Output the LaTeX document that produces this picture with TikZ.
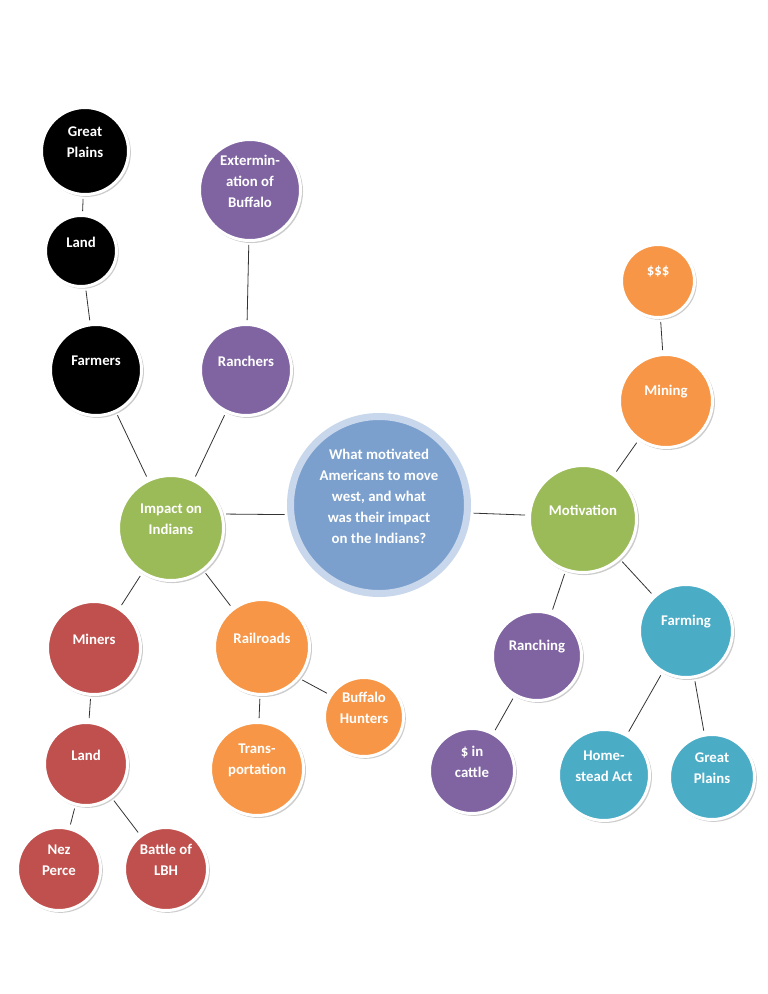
\documentclass[tikz,border=0pt]{standalone}
\usepackage{fontspec}
\setmainfont{Carlito}
\usetikzlibrary{shadows}

\definecolor{hubblue}{HTML}{7BA0CD}
\definecolor{hubring}{HTML}{C8D7EB}
\definecolor{sagegreen}{HTML}{9BBB59}
\definecolor{brickred}{HTML}{C0504D}
\definecolor{tanorange}{HTML}{F79646}
\definecolor{plum}{HTML}{8064A2}
\definecolor{aqua}{HTML}{4BACC6}

\tikzset{
  bub/.style={circle, draw=white, line width=3pt, minimum size=#1, inner sep=0pt,
    drop shadow={shadow xshift=1.5pt, shadow yshift=-1.5pt, shadow scale=1.02, opacity=0.4}},
  bubtext/.style={text=white, font=\bfseries\fontsize{14.8}{21}\selectfont, align=center, yshift=9pt},
  link/.style={draw=black!80, line width=0.8pt, shorten <=3pt, shorten >=3pt}
}

\begin{document}
\begin{tikzpicture}[x=1pt,y=-1pt]
\useasboundingbox (0,0) rectangle (768,994);

% hub
\node[circle, draw=hubring, line width=7pt, fill=hubblue, minimum size=177, inner sep=0pt,
  drop shadow={shadow xshift=1pt, shadow yshift=-1pt, opacity=0.2},
  label={[bubtext]center:{What motivated\\Americans to move\\west, and what\\was their impact\\on the Indians?}}] (hub) at (379,505) {};

% impact side
\node[bub=105, fill=sagegreen, label={[bubtext]center:{Impact on\\Indians}}] (impact) at (171,528) {};
\node[bub=91, fill=black, label={[bubtext]center:{Farmers}}] (farmers) at (96,370) {};
\node[bub=71, fill=black, label={[bubtext]center:{Land}}] (landA) at (81,251) {};
\node[bub=87, fill=black, label={[bubtext]center:{Great\\Plains}}] (plainsA) at (85,151) {};
\node[bub=91, fill=plum, label={[bubtext]center:{Ranchers}}] (ranchers) at (246,370) {};
\node[bub=101, fill=plum, label={[bubtext]center:{Extermin-\\ation of\\Buffalo}}] (buffalo) at (250,190) {};
\node[bub=93, fill=brickred, label={[bubtext]center:{Miners}}] (miners) at (94,648) {};
\node[bub=83, fill=brickred, label={[bubtext]center:{Land}}] (landB) at (86,764) {};
\node[bub=83, fill=brickred, label={[bubtext]center:{Nez\\Perce}}] (nezperce) at (59,869) {};
\node[bub=83, fill=brickred, label={[bubtext]center:{Battle of\\LBH}}] (lbh) at (166,869) {};
\node[bub=95, fill=tanorange, label={[bubtext]center:{Railroads}}] (rail) at (262,647) {};
\node[bub=79, fill=tanorange, label={[bubtext]center:{Buffalo\\Hunters}}] (hunters) at (364,717) {};
\node[bub=93, fill=tanorange, label={[bubtext]center:{Trans-\\portation}}] (transport) at (257,769) {};

% motivation side
\node[bub=107, fill=sagegreen, label={[bubtext]center:{Motivation}}] (motiv) at (583,519) {};
\node[bub=93, fill=tanorange, label={[bubtext]center:{Mining}}] (mining) at (666,401) {};
\node[bub=73, fill=tanorange, label={[bubtext]center:{\$\$\$}}] (money) at (658,281) {};
\node[bub=89, fill=plum, label={[bubtext]center:{Ranching}}] (ranching) at (537,656) {};
\node[bub=85, fill=plum, label={[bubtext]center:{\$ in\\cattle}}] (cattle) at (472,771) {};
\node[bub=93, fill=aqua, label={[bubtext]center:{Farming}}] (farming) at (686,631) {};
\node[bub=91, fill=aqua, label={[bubtext]center:{Home-\\stead Act}}] (homestead) at (604,775) {};
\node[bub=85, fill=aqua, label={[bubtext]center:{Great\\Plains}}] (plainsB) at (712,777) {};

\draw[link] (impact.15) -- (hub.186);
\draw[link] (motiv.176) -- (hub.355);
\draw[link] (impact) -- (farmers);
\draw[link] (farmers) -- (landA);
\draw[link] (landA) -- (plainsA);
\draw[link] (impact) -- (ranchers);
\draw[link] (ranchers) -- (buffalo);
\draw[link] (impact) -- (miners);
\draw[link] (miners) -- (landB);
\draw[link] (landB) -- (nezperce);
\draw[link] (landB) -- (lbh);
\draw[link] (impact) -- (rail);
\draw[link] (rail.-40) -- (hunters.147);
\draw[link] (rail) -- (transport);
\draw[link] (motiv) -- (mining);
\draw[link] (mining) -- (money);
\draw[link] (motiv) -- (ranching);
\draw[link] (ranching) -- (cattle);
\draw[link] (motiv) -- (farming);
\draw[link] (farming) -- (homestead);
\draw[link] (farming) -- (plainsB);
\end{tikzpicture}
\end{document}
